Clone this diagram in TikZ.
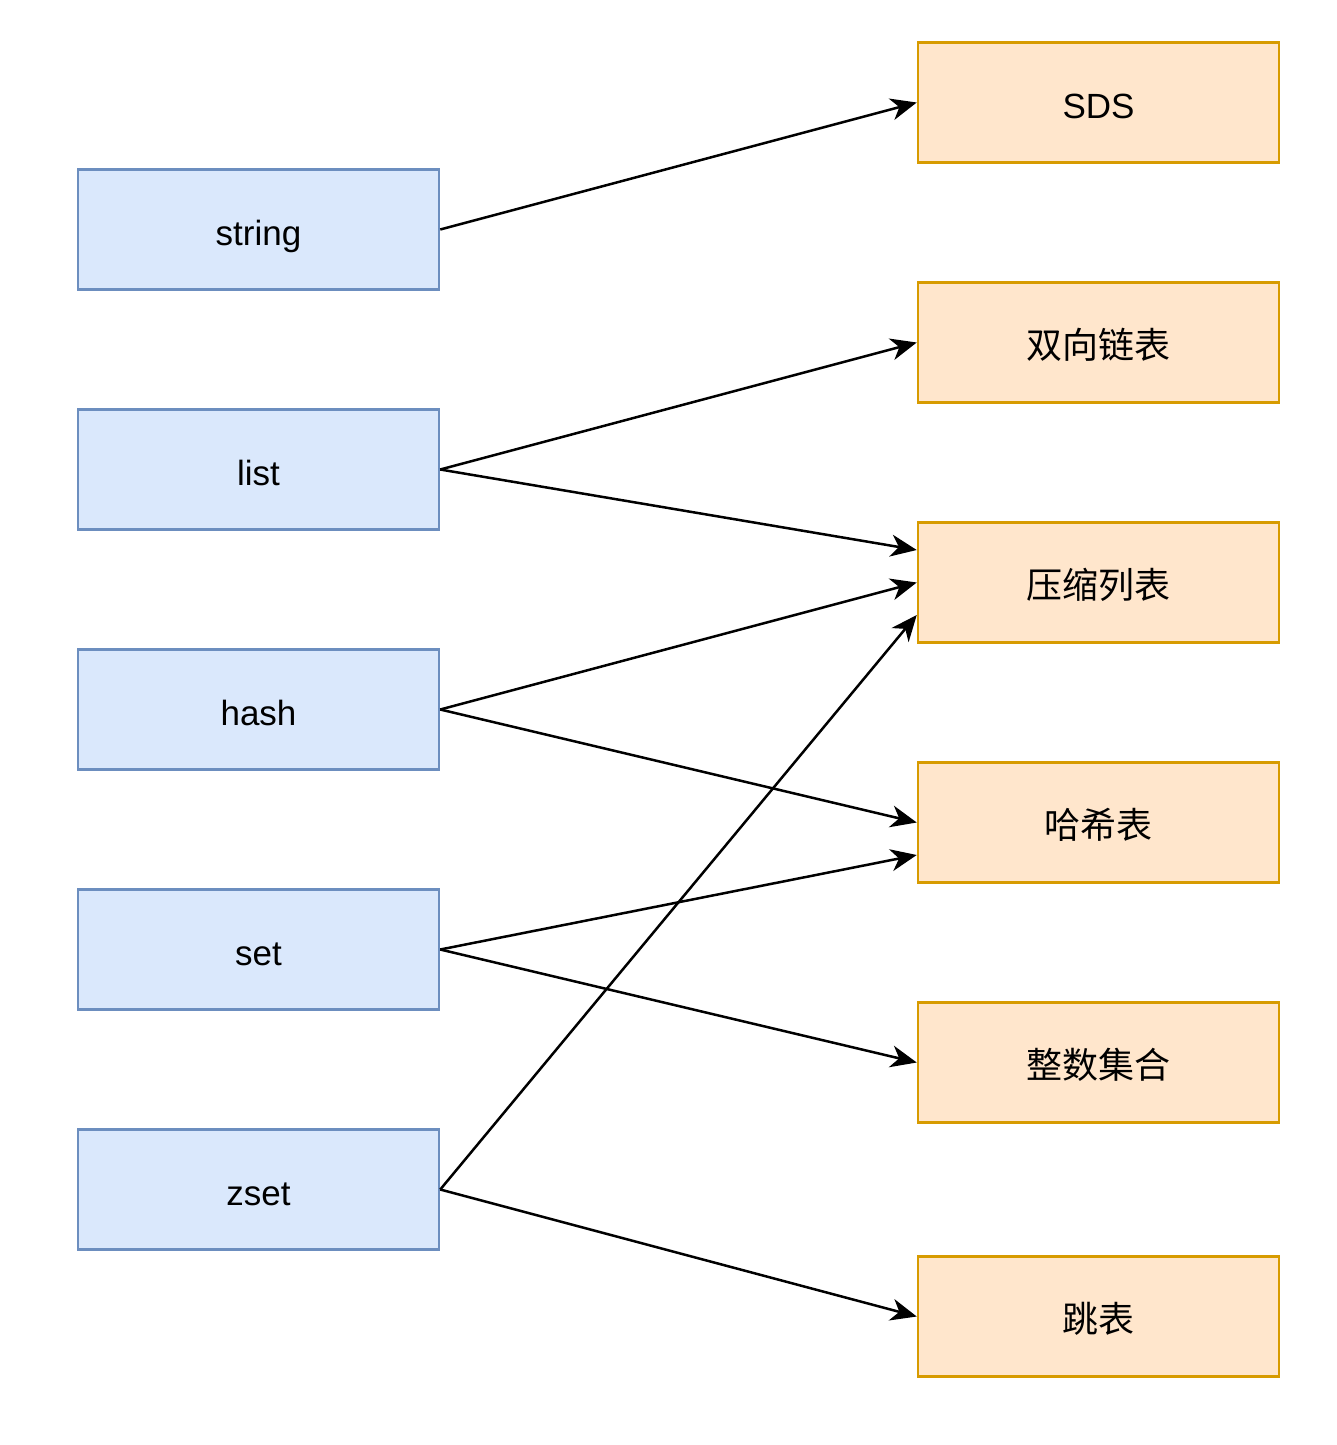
\documentclass[tikz,border=0pt]{standalone}
\usepackage{fontspec}
\setmainfont{Liberation Sans}
\newfontfamily\cjk{Noto Sans CJK SC}
\usetikzlibrary{arrows.meta}
\definecolor{bluefill}{HTML}{DAE8FC}
\definecolor{bluedraw}{HTML}{6C8EBF}
\definecolor{orfill}{HTML}{FFE6CC}
\definecolor{ordraw}{HTML}{D79B00}
\begin{document}
\begin{tikzpicture}[x=1pt,y=-1pt,
  basebox/.style={rectangle,line width=2.5pt,minimum width=361pt,minimum height=120pt,inner sep=0pt,text height=31pt,text depth=0pt},
  typebox/.style={basebox,draw=bluedraw,fill=bluefill,font=\fontsize{35}{40}\selectfont},
  implbox/.style={basebox,draw=ordraw,fill=orfill,font=\fontsize{36}{40}\selectfont\cjk},
  conn/.style={line width=2.5pt,-{Stealth[length=26pt,width=22pt,inset=8pt]}}]
\useasboundingbox (0,0) rectangle (1337,1445);
\fill[white] (0,0) rectangle (1337,1445);
\node[typebox] (string) at (258.5,229.5) {string};
\node[typebox] (list) at (258.5,469.5) {list};
\node[typebox] (hash) at (258.5,709.5) {hash};
\node[typebox] (set) at (258.5,949.5) {set};
\node[typebox] (zset) at (258.5,1189.5) {zset};
\node[implbox,font=\fontsize{35}{40}\selectfont\rmfamily] (sds) at (1098.5,102.5) {SDS};
\node[implbox] (dll) at (1098.5,342.5) {双向链表};
\node[implbox] (zip) at (1098.5,582.5) {压缩列表};
\node[implbox] (ht) at (1098.5,822.5) {哈希表};
\node[implbox] (ints) at (1098.5,1062.5) {整数集合};
\node[implbox] (skip) at (1098.5,1316.5) {跳表};
\draw[conn] (string.east) -- (sds.west);
\draw[conn] (list.east) -- (dll.west);
\draw[conn] (list.east) -- ([yshift=32.5pt]zip.west);
\draw[conn] (hash.east) -- (zip.west);
\draw[conn] (hash.east) -- (ht.west);
\draw[conn] (set.east) -- ([yshift=-32.5pt]ht.west);
\draw[conn] (set.east) -- (ints.west);
\draw[conn] (zset.east) -- ([yshift=-32.5pt]zip.west);
\draw[conn] (zset.east) -- (skip.west);
\end{tikzpicture}
\end{document}
